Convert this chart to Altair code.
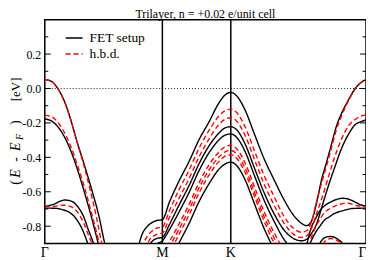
import altair as alt
import pandas as pd

FONT = "Liberation Serif"
W, H = 323, 225

title_text = "Trilayer, n = +0.02 e/unit cell"
series_names = ["FET setup", "h.b.d."]
series_colors = ["#000000", "#ff0000"]
series_dashes = [[1, 0], [5, 3]]

# high-symmetry points along the path (path-length units)
path_k = [0.0, 1.0, 1.582, 2.732]
path_labels = ["Γ", "M", "K", "Γ"]
sym_lines_k = [1.0, 1.582]

y_domain = [-0.9, 0.4]
y_major = [-0.8, -0.6, -0.4, -0.2, 0.0, 0.2]
y_minor = [-0.7, -0.5, -0.3, -0.1, 0.1, 0.3]

# ---------------- FET setup (black) ----------------
b1_k = [0, 0.06, 0.11, 0.17, 0.22, 0.27, 0.33, 0.40, 0.46, 0.51, 0.55, 0.78, 0.804, 0.829, 0.863, 0.905, 0.948, 1.0,
        1.06, 1.14, 1.23, 1.31, 1.40, 1.48, 1.53, 1.582, 1.632, 1.702, 1.782, 1.862, 1.952, 2.032, 2.112, 2.182,
        2.225, 2.265, 2.31, 2.354, 2.40, 2.44, 2.48, 2.524, 2.58, 2.64, 2.69, 2.732]
b1_E = [0.052, 0.04, 0.0, -0.08, -0.18, -0.30, -0.43, -0.59, -0.74, -0.90, -0.99, -0.99, -0.90, -0.845, -0.808, -0.782, -0.768, -0.762,
        -0.66, -0.54, -0.42, -0.30, -0.19, -0.085, -0.04, -0.023, -0.043, -0.123, -0.263, -0.403, -0.533, -0.643, -0.733, -0.783,
        -0.797, -0.775, -0.67, -0.53, -0.42, -0.32, -0.22, -0.145, -0.07, 0.0, 0.035, 0.052]

b2_k = [0, 0.06, 0.12, 0.17, 0.22, 0.28, 0.34, 0.40, 0.455, 0.49, 0.85, 0.90, 0.95, 1.0, 1.06, 1.14, 1.23, 1.31, 1.40,
        1.48, 1.53, 1.582, 1.632, 1.702, 1.782, 1.862, 1.952, 2.032, 2.112, 2.18, 2.23, 2.27, 2.31, 2.36, 2.41, 2.47,
        2.52, 2.58, 2.64, 2.68, 2.732]
b2_E = [-0.177, -0.19, -0.23, -0.285, -0.36, -0.475, -0.61, -0.755, -0.90, -0.98, -0.98, -0.90, -0.872, -0.865, -0.79, -0.68, -0.56, -0.44, -0.33,
        -0.26, -0.23, -0.222, -0.24, -0.32, -0.46, -0.60, -0.73, -0.82, -0.87, -0.885, -0.875, -0.84, -0.79, -0.68, -0.57, -0.45,
        -0.355, -0.27, -0.21, -0.195, -0.183]

b3_k = [0.90, 0.95, 1.0, 1.06, 1.14, 1.23, 1.31, 1.40, 1.48, 1.53, 1.582, 1.632, 1.702, 1.782, 1.862, 1.952, 2.032, 2.07, 2.12]
b3_E = [-0.96, -0.905, -0.885, -0.82, -0.72, -0.60, -0.48, -0.37, -0.30, -0.272, -0.264, -0.284, -0.364, -0.504, -0.644, -0.774, -0.874, -0.91, -0.96]

b4_k = [1.08, 1.14, 1.23, 1.31, 1.40, 1.48, 1.53, 1.582, 1.632, 1.702, 1.782, 1.862, 1.91, 1.94, 1.99]
b4_E = [-0.98, -0.90, -0.78, -0.66, -0.55, -0.47, -0.44, -0.428, -0.448, -0.528, -0.668, -0.808, -0.88, -0.92, -0.98]

b6l_k = [0, 0.085, 0.13, 0.17, 0.23, 0.28, 0.33, 0.37, 0.415, 0.45]
b6l_E = [-0.685, -0.67, -0.655, -0.648, -0.656, -0.686, -0.744, -0.82, -0.90, -0.97]
b6r_k = [2.20, 2.23, 2.26, 2.30, 2.34, 2.383, 2.43, 2.48, 2.53, 2.58, 2.64, 2.69, 2.732]
b6r_E = [-0.96, -0.90, -0.82, -0.76, -0.71, -0.68, -0.66, -0.645, -0.638, -0.642, -0.66, -0.677, -0.683]

b7l_k = [0, 0.085, 0.15, 0.21, 0.27, 0.32, 0.365, 0.40]
b7l_E = [-0.695, -0.696, -0.704, -0.72, -0.76, -0.82, -0.90, -0.97]
b7r_k = [2.22, 2.25, 2.27, 2.30, 2.34, 2.383, 2.41, 2.468, 2.536, 2.62, 2.732]
b7r_E = [-0.96, -0.91, -0.88, -0.84, -0.80, -0.762, -0.75, -0.725, -0.71, -0.697, -0.695]

b8_k = [2.31, 2.34, 2.37, 2.40, 2.43, 2.47, 2.50, 2.53, 2.56]
b8_E = [-0.96, -0.90, -0.872, -0.862, -0.86, -0.866, -0.88, -0.90, -0.96]

# ---------------- h.b.d. (red dashed) ----------------
r1_k = [0, 0.06, 0.11, 0.17, 0.22, 0.27, 0.33, 0.39, 0.44, 0.485, 0.52, 0.80, 0.84, 0.87, 0.91, 0.95, 1.0,
        1.06, 1.14, 1.23, 1.31, 1.40, 1.48, 1.53, 1.582, 1.632, 1.702, 1.782, 1.862, 1.952, 2.032, 2.112, 2.18,
        2.23, 2.27, 2.31, 2.354, 2.40, 2.44, 2.48, 2.524, 2.58, 2.64, 2.69, 2.732]
r1_E = [0.052, 0.04, 0.0, -0.08, -0.18, -0.30, -0.44, -0.60, -0.75, -0.90, -0.99, -0.99, -0.90, -0.86, -0.83, -0.812, -0.805,
        -0.71, -0.59, -0.47, -0.35, -0.24, -0.16, -0.13, -0.12, -0.14, -0.22, -0.36, -0.50, -0.63, -0.74, -0.81, -0.835,
        -0.825, -0.77, -0.66, -0.55, -0.44, -0.34, -0.24, -0.16, -0.075, -0.005, 0.035, 0.052]

r2_k = [0, 0.06, 0.12, 0.17, 0.22, 0.28, 0.34, 0.40, 0.465, 0.50, 0.83, 0.86, 0.89, 0.93, 0.96, 1.0, 1.06, 1.14, 1.23,
        1.31, 1.40, 1.48, 1.53, 1.582, 1.632, 1.702, 1.782, 1.862, 1.952, 2.032, 2.112, 2.18, 2.23, 2.27, 2.31, 2.36,
        2.41, 2.46, 2.52, 2.58, 2.64, 2.69, 2.732]
r2_E = [-0.155, -0.165, -0.205, -0.26, -0.335, -0.45, -0.58, -0.73, -0.90, -0.98, -0.99, -0.94, -0.88, -0.855, -0.845, -0.84, -0.75, -0.64, -0.52,
        -0.40, -0.29, -0.21, -0.18, -0.17, -0.19, -0.27, -0.41, -0.55, -0.68, -0.78, -0.845, -0.865, -0.855, -0.81, -0.73, -0.63,
        -0.52, -0.41, -0.30, -0.22, -0.18, -0.16, -0.155]

r3_k = [1.0, 1.06, 1.14, 1.23, 1.31, 1.40, 1.48, 1.53, 1.582, 1.632, 1.702, 1.782, 1.862, 1.952, 2.0, 2.05]
r3_E = [-0.96, -0.89, -0.79, -0.67, -0.55, -0.44, -0.37, -0.34, -0.33, -0.35, -0.43, -0.57, -0.71, -0.84, -0.90, -0.96]

r4_k = [1.02, 1.06, 1.14, 1.23, 1.31, 1.40, 1.48, 1.53, 1.582, 1.632, 1.702, 1.782, 1.862, 1.952, 1.98, 2.03]
r4_E = [-0.97, -0.92, -0.82, -0.70, -0.58, -0.47, -0.40, -0.37, -0.36, -0.38, -0.46, -0.60, -0.74, -0.87, -0.91, -0.97]

r5_k = [1.04, 1.08, 1.14, 1.23, 1.31, 1.40, 1.48, 1.53, 1.582, 1.632, 1.702, 1.782, 1.862, 1.93, 1.96, 2.0]
r5_E = [-0.97, -0.93, -0.85, -0.73, -0.61, -0.50, -0.425, -0.395, -0.385, -0.405, -0.485, -0.625, -0.765, -0.87, -0.91, -0.97]

r6l_k = [0, 0.085, 0.16, 0.23, 0.28, 0.33, 0.37, 0.40, 0.43]
r6l_E = [-0.688, -0.684, -0.678, -0.69, -0.72, -0.78, -0.85, -0.90, -0.96]
r6r_k = [2.21, 2.24, 2.27, 2.30, 2.34, 2.38, 2.42, 2.50, 2.57, 2.65, 2.732]
r6r_E = [-0.96, -0.92, -0.86, -0.81, -0.76, -0.72, -0.70, -0.675, -0.665, -0.68, -0.688]

r7_k = [2.34, 2.37, 2.40, 2.43, 2.46, 2.49, 2.52, 2.55]
r7_E = [-0.95, -0.90, -0.878, -0.872, -0.874, -0.885, -0.90, -0.95]

fet_bands = [("b1", b1_k, b1_E), ("b2", b2_k, b2_E), ("b3", b3_k, b3_E), ("b4", b4_k, b4_E),
             ("b6l", b6l_k, b6l_E), ("b6r", b6r_k, b6r_E), ("b7l", b7l_k, b7l_E), ("b7r", b7r_k, b7r_E),
             ("b8", b8_k, b8_E)]
hbd_bands = [("r1", r1_k, r1_E), ("r2", r2_k, r2_E), ("r3", r3_k, r3_E), ("r4", r4_k, r4_E),
             ("r5", r5_k, r5_E), ("r6l", r6l_k, r6l_E), ("r6r", r6r_k, r6r_E), ("r7", r7_k, r7_E)]


def build(series, bands):
    rows = []
    for name, ks, es in bands:
        for k, e in zip(ks, es):
            rows.append({"series": series, "band": name, "k": k, "E": e})
    return pd.DataFrame(rows)


fet_df = build(series_names[0], fet_bands)
hbd_df = build(series_names[1], hbd_bands)

x_scale = alt.Scale(domain=[path_k[0], path_k[-1]], nice=False, zero=False)
y_scale = alt.Scale(domain=y_domain, nice=False, zero=False)

x_axis = alt.Axis(orient="bottom", labels=False, ticks=False, domain=False, grid=False, title=None)
y_axis = alt.Axis(orient="left", values=y_major,
                  labelExpr="datum.value < -0.001 ? '-' + format(-datum.value, '.1f') : format(abs(datum.value), '.1f')",
                  ticks=False, domain=False, grid=False, title=None, labelFont=FONT,
                  labelFontSize=12, labelColor="black", labelPadding=4)

color_enc = alt.Color("series:N", scale=alt.Scale(domain=series_names, range=series_colors),
                      legend=alt.Legend(title=None))
dash_enc = alt.StrokeDash("series:N", scale=alt.Scale(domain=series_names, range=series_dashes),
                          legend=alt.Legend(title=None))

fet_layer = alt.Chart(fet_df).mark_line(clip=True, strokeWidth=1.4, interpolate="monotone").encode(
    x=alt.X("k:Q", scale=x_scale, axis=x_axis),
    y=alt.Y("E:Q", scale=y_scale, axis=y_axis),
    color=color_enc, strokeDash=dash_enc, detail="band:N",
)
hbd_layer = alt.Chart(hbd_df).mark_line(clip=True, strokeWidth=1.4, interpolate="monotone").encode(
    x=alt.X("k:Q", scale=x_scale, axis=x_axis),
    y=alt.Y("E:Q", scale=y_scale, axis=y_axis),
    color=color_enc, strokeDash=dash_enc, detail="band:N",
)

zero_line = alt.Chart(pd.DataFrame({"E": [0.0]})).mark_rule(
    color="#222222", strokeWidth=1, strokeDash=[1, 2]).encode(y=alt.Y("E:Q", scale=y_scale, axis=y_axis))

sym_lines = alt.Chart(pd.DataFrame({"k": sym_lines_k})).mark_rule(
    color="black", strokeWidth=1.5).encode(x=alt.X("k:Q", scale=x_scale, axis=x_axis))

major_df = pd.DataFrame({"E": y_major})
minor_df = pd.DataFrame({"E": y_minor})


def tick_layer(df, x0, x1):
    return alt.Chart(df).mark_rule(color="black", strokeWidth=1).encode(
        y=alt.Y("E:Q", scale=y_scale, axis=y_axis), x=alt.value(x0), x2=alt.value(x1))


ticks = [tick_layer(major_df, 0, 6), tick_layer(minor_df, 0, 3.5),
         tick_layer(major_df, W - 6, W), tick_layer(minor_df, W - 3.5, W)]

# k-point labels (last one kept inside the drawing area)
klab_df = pd.DataFrame({"k": path_k, "lab": path_labels})
klab_inner = alt.Chart(klab_df.iloc[:-1]).mark_text(
    font=FONT, fontSize=14, color="black", baseline="top", align="center"
).encode(x=alt.X("k:Q", scale=x_scale, axis=x_axis), y=alt.value(H + 3), text="lab:N")
klab_last = alt.Chart(klab_df.iloc[-1:]).mark_text(
    font=FONT, fontSize=14, color="black", baseline="top", align="right", dx=0.5
).encode(x=alt.X("k:Q", scale=x_scale, axis=x_axis), y=alt.value(H + 3), text="lab:N")

# chart title as text (kept inside the page)
title_layer = alt.Chart(pd.DataFrame({"t": [title_text]})).mark_text(
    font=FONT, fontSize=12, color="black", baseline="alphabetic", align="center"
).encode(text="t:N", x=alt.value(W / 2), y=alt.value(-1.5))

# y-axis title pieces: (E - E_F)  [eV]
ytitle_parts = ["(", "E", "-", "E", "F", ")", "[eV]"]
ytitle_style = ["normal", "italic", "normal", "italic", "italic", "normal", "normal"]
ytitle_size = [14, 14, 14, 14, 10, 14, 13]
ytitle_start = [166, 159, 143, 132, 121, 106, 82]
ytitle_shift = [0, 0, 0, 0, 3, 0, 0]

ytitle_layers = []
for txt, sty, sz, y0, sh in zip(ytitle_parts, ytitle_style, ytitle_size, ytitle_start, ytitle_shift):
    ytitle_layers.append(
        alt.Chart(pd.DataFrame({"t": [txt]})).mark_text(
            angle=270, align="left", baseline="alphabetic", font=FONT, fontSize=sz,
            fontStyle=sty, color="black", dy=sh,
        ).encode(text="t:N", x=alt.value(-25), y=alt.value(y0))
    )

chart = alt.layer(
    zero_line, sym_lines, fet_layer, hbd_layer, *ticks, klab_inner, klab_last, title_layer, *ytitle_layers
).properties(
    width=W, height=H,
    autosize=alt.AutoSizeParams(type="none"),
    padding={"left": 37, "top": 11, "right": 0, "bottom": 16},
).configure_view(
    stroke="black", strokeWidth=1.5
).configure_legend(
    orient="none", legendX=20, legendY=9, padding=0, symbolType="stroke", symbolSize=289,
    symbolStrokeWidth=1.5, labelFont=FONT, labelFontSize=13.5, labelOffset=6, rowPadding=-2,
    labelColor="black",
)

chart.save("out.html", embed_options={"renderer": "svg", "actions": False})
